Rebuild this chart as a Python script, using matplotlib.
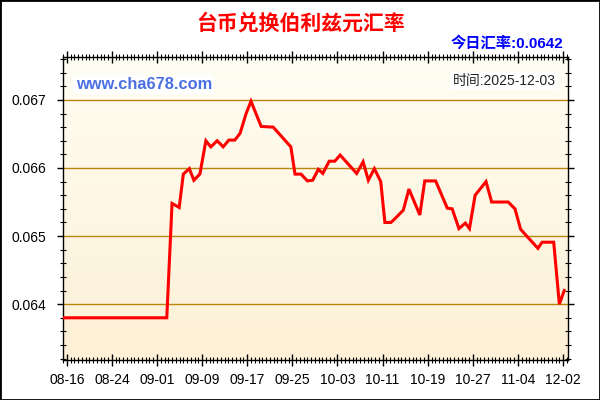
import numpy as np
import matplotlib
matplotlib.use("Agg")
import matplotlib.pyplot as plt
from matplotlib.ticker import MultipleLocator, FixedLocator
from matplotlib.patches import Rectangle

# ---- data ----
title = "台币兑换伯利兹元汇率"
today_rate = "0.0642"
date_str = "2025-12-03"
x_labels = ["08-16", "08-24", "09-01", "09-09", "09-17", "09-25",
            "10-03", "10-11", "10-19", "10-27", "11-04", "12-02"]
# position of each vertex along the sample index axis
x_pos = [0, 27.6, 29.0, 30.9, 32.0, 33.6, 34.8, 36.4, 38.0, 39.3, 41.0, 42.6,
         44.1, 45.7, 47.1, 48.7, 50.0, 52.7, 55.9, 60.6, 61.7, 63.3, 65.0,
         66.4, 67.9, 69.1, 70.8, 72.3, 73.7, 78.1, 79.8, 81.2, 82.8, 84.5,
         85.6, 87.2, 88.0, 90.5, 92.0, 94.9, 96.2, 99.1, 102.2, 103.5, 105.3,
         107.0, 108.1, 109.6, 112.5, 114.0, 118.4, 120.2, 121.7, 123.0, 126.3,
         127.4, 130.5, 132.0, 133.3]
rates = [0.06380, 0.06380, 0.06548, 0.06542, 0.06591, 0.06599, 0.06582, 0.06591,
         0.06640, 0.06631, 0.06640, 0.06631, 0.06641, 0.06641, 0.06651, 0.06680,
         0.06698, 0.06661, 0.06660, 0.06631, 0.06591, 0.06591, 0.06581, 0.06582,
         0.06598, 0.06592, 0.06610, 0.06610, 0.06619, 0.06592, 0.06609, 0.06582,
         0.06599, 0.06580, 0.06520, 0.06520, 0.06524, 0.06538, 0.06569, 0.06531,
         0.06581, 0.06581, 0.06541, 0.06540, 0.06511, 0.06519, 0.06511, 0.06560,
         0.06580, 0.06550, 0.06550, 0.06540, 0.06510, 0.06502, 0.06482, 0.06491,
         0.06491, 0.06400, 0.06420]
y_ticks = [0.064, 0.065, 0.066, 0.067]

# ---- figure ----
fig = plt.figure(figsize=(6, 4), dpi=100)
fig.patch.set_facecolor("white")
fig.patches.append(Rectangle((0, 0), 1, 1, transform=fig.transFigure,
                             fill=False, edgecolor="black", linewidth=2.0))

ax = fig.add_axes([63 / 600, 1 - 360 / 400, 505 / 600, 303 / 400])

# gradient background
top = np.array([255, 254, 243]) / 255
bot = np.array([253, 240, 214]) / 255
t = np.linspace(0, 1, 256)[:, None]
grad = (top * (1 - t) + bot * t)[:, None, :]
ax.imshow(grad, extent=[0, 1, 0, 1], transform=ax.transAxes,
          aspect="auto", zorder=0, interpolation="bilinear")

ax.set_xlim(0, 134.3)
ax.set_ylim(0.06318, 0.06763)

for v in y_ticks:
    ax.axhline(v, color="#B8860B", linewidth=1.0, zorder=1)

ax.plot(x_pos, rates, color="#FF0000", linewidth=2.2, zorder=3,
        solid_joinstyle="miter")

# ticks
label_pos = [1 + 12 * k for k in range(len(x_labels))]
ax.xaxis.set_major_locator(FixedLocator(label_pos))
ax.set_xticklabels(x_labels)
ax.xaxis.set_minor_locator(MultipleLocator(1))
ax.set_yticks(y_ticks)
ax.set_yticklabels([f"{v:.3f}" for v in y_ticks])
ax.yaxis.set_minor_locator(MultipleLocator(0.0002))

ax.tick_params(axis="x", which="major", direction="inout", length=8, width=1,
               labelsize=10, pad=5, top=True, bottom=True, colors="black")
ax.tick_params(axis="x", which="minor", direction="inout", length=5, width=0.8,
               top=True, bottom=True)
ax.tick_params(axis="y", which="major", direction="out", length=4, width=1,
               labelsize=10, pad=8, left=True, right=True)
ax.tick_params(axis="y", which="minor", direction="inout", length=4, width=0.8,
               left=True, right=True)
for lab in ax.get_xticklabels() + ax.get_yticklabels():
    lab.set_family(["Liberation Sans", "DejaVu Sans"])

for s in ax.spines.values():
    s.set_color("black")
    s.set_linewidth(1.0)

# texts
fig.text(0.5, 1 - 23 / 400, title, ha="center", va="center", color="#FF0000",
         fontsize=15, fontweight="bold", family=["Noto Sans CJK SC"])
fig.text(563 / 600, 1 - 43 / 400, "今日汇率:" + today_rate, ha="right", va="center",
         color="#0000FF", fontsize=11, fontweight="bold",
         family=["Liberation Sans", "Noto Sans CJK SC"])
ax.text(0.025, 0.91, "www.cha678.com", transform=ax.transAxes, ha="left",
        va="center", color="#4A6FE3", fontsize=11.8, fontweight="bold",
        family=["Liberation Sans"],
        bbox=dict(facecolor="white", edgecolor="none", pad=1.5))
ax.text(0.975, 0.92, "时间:" + date_str, transform=ax.transAxes, ha="right",
        va="center", color="#222222", fontsize=10,
        family=["Liberation Sans", "Noto Sans CJK SC"],
        bbox=dict(facecolor="white", edgecolor="none", pad=1.5))

fig.savefig("out.png", dpi=100)
